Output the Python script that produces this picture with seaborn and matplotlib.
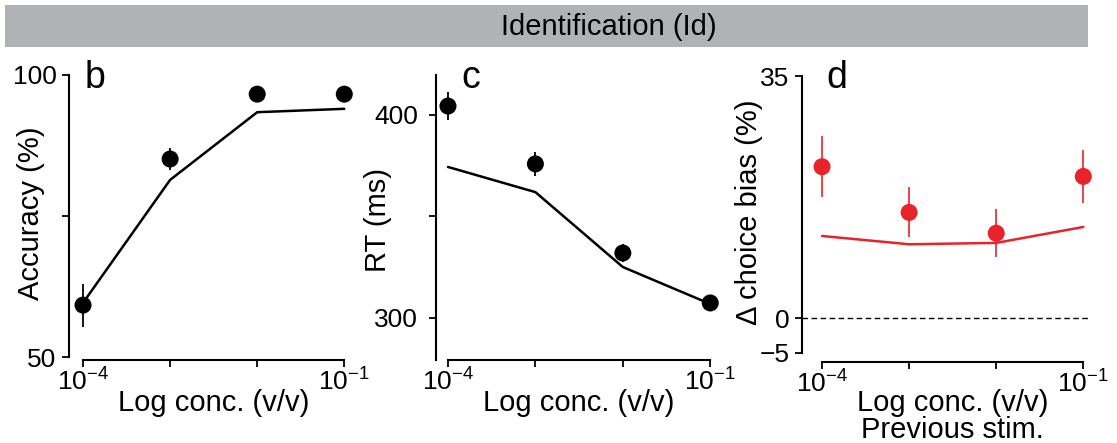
import numpy as np
import pandas as pd
import matplotlib
matplotlib.use("Agg")
import matplotlib.pyplot as plt
import seaborn as sns

# Odor concentrations (v/v) shared by all panels
conc = [1e-4, 1e-3, 1e-2, 1e-1]

# b: accuracy
acc_mean = [59.2, 85.1, 96.6, 96.6]
acc_err = [3.8, 1.9, 0.6, 0.6]
acc_model = [59.6, 81.4, 93.4, 94.0]

# c: reaction time
rt_mean = [404.4, 375.9, 332.0, 307.4]
rt_err = [7.0, 6.0, 4.5, 2.0]
rt_model = [374.4, 362.0, 325.1, 306.9]

# d: change in choice bias vs previous stimulus
bias_mean = [21.9, 15.3, 12.3, 20.5]
bias_err = [4.4, 3.6, 3.5, 3.8]
bias_model = [11.9, 10.7, 10.9, 13.2]

xtick_labels = [r"$\mathregular{10^{-4}}$", "", "", r"$\mathregular{10^{-1}}$"]

sns.set_style("ticks")
plt.rcParams["font.family"] = ["Liberation Sans", "DejaVu Sans"]
plt.rcParams["mathtext.fontset"] = "custom"
plt.rcParams["mathtext.rm"] = "Liberation Sans"
plt.rcParams["mathtext.it"] = "Liberation Sans:italic"
plt.rcParams["mathtext.bf"] = "Liberation Sans:bold"
for key in ("text.color", "axes.labelcolor", "xtick.color", "ytick.color",
            "xtick.labelcolor", "ytick.labelcolor"):
    plt.rcParams[key] = "black"

W, H = 1117, 443
fig = plt.figure(figsize=(W / 100, H / 100), dpi=100)

RED = "#e8232a"
TICK_FS = 19
LABEL_FS = 21


def add_ax(left, right, top, bottom):
    return fig.add_axes([left / W, 1 - bottom / H, (right - left) / W, (bottom - top) / H])


def style(ax, xl, yl, ybounds, yticks, yticklabels, ypad):
    ax.set_xscale("log")
    ax.set_xlim(*xl)
    ax.set_ylim(*yl)
    ax.set_xticks(conc)
    ax.set_xticklabels(xtick_labels)
    ax.xaxis.set_minor_locator(matplotlib.ticker.NullLocator())
    ax.set_yticks(yticks)
    ax.set_yticklabels(yticklabels)
    sns.despine(ax=ax)
    ax.spines["bottom"].set_bounds(conc[0], conc[-1])
    if ybounds is not None:
        ax.spines["left"].set_bounds(*ybounds)
    for s in ("left", "bottom"):
        ax.spines[s].set_linewidth(1.5)
        ax.spines[s].set_color("black")
    ax.tick_params(axis="both", direction="out", length=5, width=1.3,
                   colors="black", labelsize=TICK_FS)
    ax.tick_params(axis="x", pad=1)
    ax.tick_params(axis="y", pad=ypad)
    ax.set_facecolor("none")


def draw(ax, mean, err, model, color, elw):
    df = pd.DataFrame({"conc": conc, "model": model})
    sns.lineplot(data=df, x="conc", y="model", ax=ax, color=color, lw=1.8)
    ax.errorbar(conc, mean, yerr=err, fmt="none", ecolor=color, elinewidth=elw,
                capsize=0, zorder=3)
    sns.scatterplot(x=conc, y=mean, ax=ax, color=color, s=150, edgecolor="none",
                    zorder=4, legend=False)
    ax.set_xlabel("")
    ax.set_ylabel("")


# ---- panel b
xl_b = (10 ** -4.161, 10 ** -0.9)
axb = add_ax(69, 353, 73, 360)
draw(axb, acc_mean, acc_err, acc_model, "black", 1.3)
style(axb, xl_b, (49.47, 100.35), (50, 100),
      [50, 75, 100], ["50", "", "100"], 4)
axb.set_ylabel("Accuracy (%)", fontsize=LABEL_FS)
axb.yaxis.set_label_coords(-0.085, 0.51)

# ---- panel c
xl_c = (10 ** -4.137, 10 ** -0.9)
axc = add_ax(436, 719, 75, 360)
draw(axc, rt_mean, rt_err, rt_model, "black", 1.3)
style(axc, xl_c, (279.3, 419.7), None,
      [300, 350, 400], ["300", "", "400"], 8)
axc.set_ylabel("RT (ms)", fontsize=LABEL_FS)
axc.yaxis.set_label_coords(-0.155, 0.49)

# ---- panel d
xl_d = (10 ** -4.23, 10 ** -0.9)
axd = add_ax(802, 1092, 74, 362)
draw(axd, bias_mean, bias_err, bias_model, RED, 1.2)
style(axd, xl_d, (-6.3, 35.29), (-5, 35),
      [-5, 0, 35], ["\u22125", "0", "35"], 4)
axd.axhline(0, xmin=0, xmax=(1088 - 802) / 290, color="black", lw=1.0,
            linestyle=(0, (4, 2.5)), zorder=1)
axd.set_ylabel("\u0394 choice bias (%)", fontsize=LABEL_FS)
axd.yaxis.set_label_coords(-0.134, 0.52)

# x labels, centred under the tick range
for ax, xl, bottom, lab in ((axb, xl_b, 360, "Log conc. (v/v)"),
                            (axc, xl_c, 360, "Log conc. (v/v)"),
                            (axd, xl_d, 362, "Log conc. (v/v)\nPrevious stim.")):
    lo, hi = np.log10(xl)
    xc = (-2.5 - lo) / (hi - lo)
    h = ax.get_position().height * H
    yc = (bottom - 389) / h
    ax.set_xlabel(lab, fontsize=LABEL_FS, linespacing=0.95)
    ax.xaxis.set_label_coords(xc, yc)

# panel letters
for letter, x in (("b", 85), ("c", 461), ("d", 826)):
    fig.text(x / W, 1 - 88 / H, letter, fontsize=27, ha="left", va="baseline")

# header banner
ban = fig.add_axes([5 / W, 1 - 47 / H, (1088 - 5) / W, 42 / H])
ban.set_facecolor("#b1b2b6")
ban.set_xticks([])
ban.set_yticks([])
for s in ban.spines.values():
    s.set_visible(False)
fig.text(609 / W, 1 - 27 / H, "Identification (Id)", fontsize=21,
         ha="center", va="center")

fig.savefig("out.png", dpi=100)
